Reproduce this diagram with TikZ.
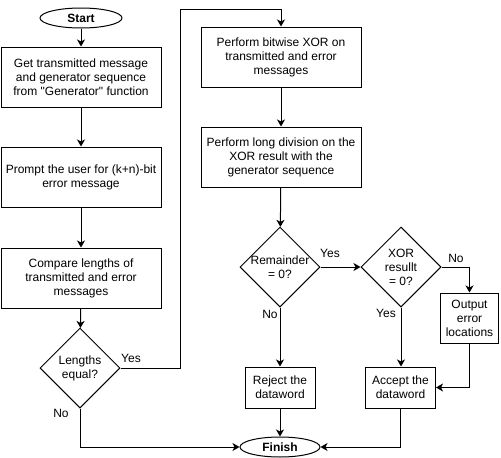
\documentclass[tikz,border=0pt]{standalone}
\usepackage{fontspec}
\setmainfont{Liberation Sans}[Ligatures=TeXOff]
\usetikzlibrary{shapes.geometric,arrows.meta}
\begin{document}
\begin{tikzpicture}[x=1pt,y=1pt,
  every node/.style={font=\fontsize{12}{14}\selectfont, align=center, inner sep=0pt},
  proc/.style={draw, rectangle, line width=1pt, minimum width=160pt, minimum height=60pt},
  small/.style={draw, rectangle, line width=1pt, minimum width=70pt, minimum height=41pt},
  term/.style={draw, ellipse, line width=1pt, minimum width=#1, minimum height=20pt, font=\fontsize{12}{14}\selectfont\bfseries},
  decision/.style={draw, diamond, line width=1pt, minimum width=80pt, minimum height=80pt},
  lab/.style={font=\fontsize{12}{14}\selectfont},
  arr/.style={line width=1pt, -{Stealth[length=7pt,width=8pt,inset=2pt]}},
  ln/.style={line width=1pt}
  ]
\useasboundingbox (0,0) rectangle (501,-458);

\node[term=82pt] (start) at (81,-18) {Start};
\node[proc] (b1) at (81,-77) {Get transmitted message\\and generator sequence\\from "Generator" function};
\node[proc] (b2) at (81,-177) {Prompt the user for (k+n)-bit\\error message};
\node[proc] (b3) at (81,-278) {Compare lengths of\\transmitted and error\\messages};
\node[decision, label={[align=center, font=\fontsize{12}{14}\selectfont]center:Lengths\\equal?}] (d1) at (80,-368) {};

\node[proc] (b4) at (281,-57) {Perform bitwise XOR on\\transmitted and error\\messages};
\node[proc] (b5) at (281,-157) {Perform long division on the\\XOR result with the\\generator sequence};
\node[decision, label={[align=center, font=\fontsize{12}{14}\selectfont]center:Remainder\\= 0?}] (d2) at (280,-267) {};
\node[decision, label={[align=center, font=\fontsize{12}{14}\selectfont]center:XOR\\resullt\\= 0?}] (d3) at (401,-267) {};
\node[draw, rectangle, line width=1pt, minimum width=58pt, minimum height=50pt] (out) at (469.5,-318) {Output\\error\\locations};
\node[small] (rej) at (280,-387.5) {Reject the\\dataword};
\node[small] (acc) at (400.5,-387.5) {Accept the\\dataword};
\node[term=80pt] (fin) at (280,-447) {Finish};

\coordinate (ya) at (180,-9);

\draw[arr] (start) -- (b1);
\draw[arr] (b1) -- (b2);
\draw[arr] (b2) -- (b3);
\draw[arr] (b3) -- (d1);
\draw[arr] (d1.east) -| (ya) -| (b4.north);
\draw[arr] (b4) -- (b5);
\draw[arr] (b5) -- (d2);
\draw[arr] (d2.east) -- (d3.west);
\draw[arr] (d2.south) -- (rej.north);
\draw[arr] (d3.south) -- (d3.south |- acc.north);
\draw[arr] (d3.east) -| (out.north);
\draw[arr] (out.south) |- (acc.east);
\draw[arr] (rej.south) -- (fin.north);
\draw[arr] (d1.south) |- (fin.west);
\draw[arr] (acc.south) |- (fin.east);

\node[lab] (l1) at (131,-358) {Yes};
\node[lab] (l2) at (61,-413) {No};
\node[lab] (l3) at (330,-253) {Yes};
\node[lab] (l4) at (270,-314) {No};
\node[lab] (l5) at (386,-313) {Yes};
\node[lab] (l6) at (456,-258) {No};
\end{tikzpicture}
\end{document}
